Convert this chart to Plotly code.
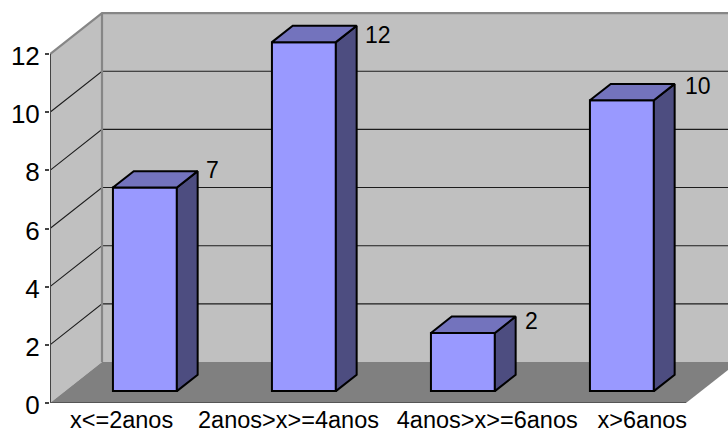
import plotly.graph_objects as go

# Chart content
categories = ["x&lt;=2anos", "2anos&gt;x&gt;=4anos", "4anos&gt;x&gt;=6anos", "x&gt;6anos"]
values = [7, 12, 2, 10]
y_ticks = [0, 2, 4, 6, 8, 10, 12]
# Horizontal placement of the category labels, in category slots
label_positions = [0.45, 1.5, 2.75, 3.725]
# Pixel nudges of each value label
label_nudges_y = [1, -9, -4, -2]
label_nudges_x = [6, 6, 7, 8]

# Oblique projection: how far one full unit of depth moves a point on each axis
DEPTH_X = 52 / 159
DEPTH_Y = 41 / 29.08
BAR_HALF = 0.201
BAR_CENTRE = 0.502
BAR_NEAR = 0.29
BAR_FAR = 0.69
N = len(categories)
X_RANGE = [0, 678 / 159]
Y_RANGE = [0, 393 / 29.08]

WALL = "#c0c0c0"
FLOOR = "#808080"
EDGE = "#868686"
FRONT = "#9999ff"
TOP = "#7373bd"
SIDE = "#4d4d80"


def project(x, y, d):
    return x + d * DEPTH_X, y + d * DEPTH_Y


def polygon(points, fill, line="rgba(0,0,0,0)", width=0, axes=("x", "y")):
    pts = [project(*p) for p in points]
    pts.append(pts[0])
    return go.Scatter(
        x=[p[0] for p in pts], y=[p[1] for p in pts], mode="lines",
        fill="toself", fillcolor=fill, line=dict(color=line, width=width),
        hoverinfo="skip", showlegend=False, cliponaxis=False,
        xaxis=axes[0], yaxis=axes[1],
    )


def path(points, color, width):
    pts = [project(*p) for p in points]
    return go.Scatter(
        x=[p[0] for p in pts], y=[p[1] for p in pts], mode="lines",
        line=dict(color=color, width=width), hoverinfo="skip",
        showlegend=False, cliponaxis=False,
    )


fig = go.Figure()
top = y_ticks[-1]

# Walls and floor
fig.add_trace(polygon([(0, 0, 1), (N, 0, 1), (N, top, 1), (0, top, 1)], WALL))
fig.add_trace(polygon([(0, 0, 0), (0, 0, 1), (0, top, 1), (0, top, 0)], WALL))
fig.add_trace(polygon([(0, 0, 0), (N, 0, 0), (N, 0, 1), (0, 0, 1)], FLOOR))

# Gridlines run across the left wall and along the back wall
for t in y_ticks[1:-1]:
    fig.add_trace(path([(0, t, 0), (0, t, 1), (N, t, 1)], "#1c1c1c", 1.1))

# Wall edges and the front axis lines
fig.add_trace(path([(0, top, 0), (0, top, 1), (N, top, 1)], EDGE, 2.2))
fig.add_trace(path([(0, 0, 1), (0, top, 1)], EDGE, 2.2))
fig.add_trace(path([(0, 0, 0), (0, top, 0)], "#444444", 2))
fig.add_trace(path([(0, 0, 0), (N, 0, 0)], "#555555", 2))

# Bars live on an overlaying axis pair so that they stack above the filled walls
OVER = ("x2", "y2")
fig.add_trace(go.Bar(
    x=[project(i + BAR_CENTRE, 0, BAR_NEAR)[0] for i in range(N)],
    y=values,
    base=[BAR_NEAR * DEPTH_Y] * N,
    width=2 * BAR_HALF,
    marker=dict(color=FRONT, line=dict(color="black", width=2)),
    hoverinfo="skip", showlegend=False, xaxis="x2", yaxis="y2",
))

# Side and top faces are projected from the same values as the front face
span = BAR_FAR - BAR_NEAR
for i, v in enumerate(values):
    left = i + BAR_CENTRE - BAR_HALF
    right = i + BAR_CENTRE + BAR_HALF
    fig.add_trace(polygon(
        [(right, 0, BAR_NEAR), (right + span * DEPTH_X, span * DEPTH_Y, BAR_NEAR),
         (right + span * DEPTH_X, v + span * DEPTH_Y, BAR_NEAR), (right, v, BAR_NEAR)],
        SIDE, "black", 2, OVER))
    fig.add_trace(polygon(
        [(left, v, BAR_NEAR), (right, v, BAR_NEAR), (right, v, BAR_FAR), (left, v, BAR_FAR)],
        TOP, "black", 2, OVER))

# Value labels sit beside the rear corner of each bar top
for i, v in enumerate(values):
    cx, cy = project(i + BAR_CENTRE + BAR_HALF, v, BAR_FAR)
    fig.add_annotation(
        x=cx, y=cy, text=str(v), showarrow=False, xanchor="left", yanchor="middle",
        xshift=label_nudges_x[i], yshift=label_nudges_y[i], font=dict(size=23, color="black"),
    )

fig.update_layout(
    width=728, height=432,
    margin=dict(l=50, r=0, t=10, b=29),
    paper_bgcolor="white", plot_bgcolor="white",
    font=dict(family="Liberation Sans", color="black"),
    showlegend=False, barmode="overlay",
    xaxis=dict(
        range=X_RANGE, showgrid=False, zeroline=False, showline=False,
        tickmode="array", tickvals=label_positions, ticktext=categories,
        ticks="", tickfont=dict(size=23.5), tickangle=0, fixedrange=True,
        ticklabelstandoff=0, automargin=False,
    ),
    yaxis=dict(
        range=Y_RANGE, showgrid=False, zeroline=False, showline=False,
        tickmode="array", tickvals=y_ticks, ticks="outside", ticklen=4,
        tickwidth=1.5, tickcolor="#444444", tickfont=dict(size=26), fixedrange=True,
        ticklabelshift=2, automargin=False,
    ),
    xaxis2=dict(range=X_RANGE, overlaying="x", visible=False, fixedrange=True),
    yaxis2=dict(range=Y_RANGE, overlaying="y", visible=False, fixedrange=True),
)

fig.write_html("out.html", config=dict(displayModeBar=False))
